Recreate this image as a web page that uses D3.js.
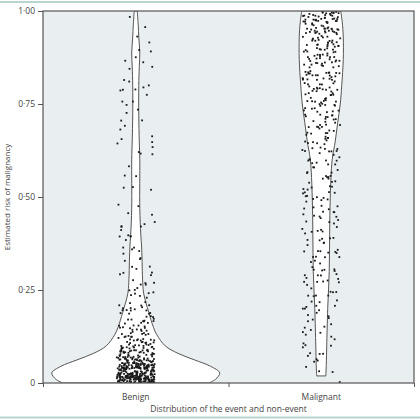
<!DOCTYPE html>
<html>
<head>
<meta charset="utf-8">
<script src="https://cdn.jsdelivr.net/npm/d3@7"></script>
<style>
  body { margin: 0; background: #fff; }
  svg { display: block; }
  text { font-family: "Open Sans", sans-serif; fill: #444; }
</style>
</head>
<body>
<div id="chart"></div>
<script>
// categories and axis ticks
var groups = ["Benign", "Malignant"];
var yTicks = [0, 0.25, 0.5, 0.75, 1];
var yTickLabels = ["0", "0·25", "0·50", "0·75", "1·00"];

// number of patients per 0.025 band of estimated risk
var binWidth = 0.025;
var benignCounts = [150, 100, 60, 40, 25, 18, 14, 12, 8, 7,
                    6, 5, 3, 4, 4, 5, 4, 2, 2, 2,
                    1, 2, 2, 1, 3, 3, 2, 2, 2, 3,
                    3, 4, 3, 2, 2, 3, 1, 1, 1, 1];
var malignantCounts = [1, 3, 4, 4, 5, 5, 5, 6, 6, 7,
                       6, 7, 7, 7, 7, 7, 7, 8, 7, 8,
                       8, 8, 8, 9, 9, 10, 10, 11, 12, 13,
                       14, 15, 16, 17, 18, 20, 20, 22, 25, 30];

// violin outlines: [risk, relative density]
var benignProfile = [[0, 0.87], [0.01, 0.95], [0.027, 1.0], [0.045, 0.89], [0.062, 0.70],
                     [0.08, 0.50], [0.10, 0.35], [0.13, 0.25], [0.15, 0.21], [0.19, 0.155],
                     [0.24, 0.095], [0.27, 0.083], [0.36, 0.071], [0.40, 0.06], [0.47, 0.048],
                     [0.60, 0.048], [0.65, 0.042], [0.72, 0.036], [0.80, 0.036], [0.85, 0.042],
                     [0.887, 0.048], [0.93, 0.036], [0.96, 0.03], [1.0, 0.018]];
var malignantProfile = [[0.019, 0.054], [0.05, 0.06], [0.1, 0.065], [0.2, 0.077], [0.3, 0.095],
                        [0.4, 0.10], [0.5, 0.107], [0.6, 0.13], [0.65, 0.167], [0.7, 0.196],
                        [0.75, 0.226], [0.8, 0.244], [0.87, 0.262], [0.93, 0.262], [0.97, 0.25],
                        [1.0, 0.232]];

var W = 420, H = 420;
var margin = { top: 11, right: 6, bottom: 37, left: 43 },
    width = W - margin.left - margin.right,
    height = H - margin.top - margin.bottom;

var svg = d3.select("#chart").append("svg")
    .attr("width", W)
    .attr("height", H);

// thin teal rules of the journal page
svg.append("line").attr("x1", 0).attr("x2", W).attr("y1", 2).attr("y2", 2)
    .attr("stroke", "#b8d6cf").attr("stroke-width", 2);
svg.append("line").attr("x1", 0).attr("x2", W).attr("y1", 417.5).attr("y2", 417.5)
    .attr("stroke", "#b8d6cf").attr("stroke-width", 2);

var g = svg.append("g")
    .attr("transform", "translate(" + margin.left + "," + margin.top + ")");

var x = d3.scaleBand().domain(groups).range([0, width]).padding(0);
var xEdge = d3.scaleLinear().domain([0, groups.length]).range([0, width]);
var y = d3.scaleLinear().domain([0, 1]).range([height, 0]);
var w = d3.scaleLinear().domain([0, 1]).range([0, 84]);

// panel
g.append("rect")
    .attr("width", width).attr("height", height)
    .attr("fill", "#e9eef0");

g.append("clipPath").attr("id", "clip")
    .append("rect").attr("width", width).attr("height", height);

var plot = g.append("g").attr("clip-path", "url(#clip)");

// violins
var profiles = { "Benign": benignProfile, "Malignant": malignantProfile };
groups.forEach(function (grp) {
    var cx = x(grp) + x.bandwidth() / 2;
    var area = d3.area()
        .y(function (d) { return y(d[0]); })
        .x0(function (d) { return cx - w(d[1]); })
        .x1(function (d) { return cx + w(d[1]); })
        .curve(d3.curveCatmullRom);
    plot.append("path")
        .datum(profiles[grp])
        .attr("d", area)
        .attr("fill", "#fff")
        .attr("stroke", "#555")
        .attr("stroke-width", 1);
});

// fixed scatter offsets (hash of the point index, so every render is the same)
function hash(n) {
    var s = Math.sin(n * 12.9898 + 78.233) * 43758.5453;
    return s - Math.floor(s);
}

// jittered points
var counts = { "Benign": benignCounts, "Malignant": malignantCounts };
var jitter = 19;
groups.forEach(function (grp, gi) {
    var cx = x(grp) + x.bandwidth() / 2;
    var pts = [];
    var idx = gi * 1000;
    counts[grp].forEach(function (c, i) {
        for (var k = 0; k < c; k++) {
            idx++;
            pts.push({
                v: (i + hash(idx * 3.1 + 0.7)) * binWidth,
                dx: (hash(idx) - 0.5) * 2 * jitter
            });
        }
    });
    plot.selectAll("rect.pt" + gi)
        .data(pts)
        .enter()
        .append("rect")
        .attr("class", "pt" + gi)
        .attr("x", function (d) { return cx + d.dx - 0.9; })
        .attr("y", function (d) { return y(d.v) - 0.9; })
        .attr("width", 1.8)
        .attr("height", 1.8)
        .attr("fill", "#1a1a1a");
});

// frame
g.append("rect")
    .attr("width", width).attr("height", height)
    .attr("fill", "none")
    .attr("stroke", "#555")
    .attr("stroke-width", 1.2);

// y axis
var yAxis = g.append("g")
    .call(d3.axisLeft(y).tickValues(yTicks).tickSize(5)
        .tickFormat(function (d, i) { return yTickLabels[i]; }));
yAxis.select(".domain").remove();
yAxis.selectAll("line").attr("stroke", "#555");
yAxis.selectAll("text").attr("font-size", 8.5).attr("fill", "#444")
    .style("font-family", "'Open Sans', sans-serif");

// x axis: ticks on band edges, labels at band centres
var xAxis = g.append("g")
    .attr("transform", "translate(0," + height + ")")
    .call(d3.axisBottom(xEdge).tickValues([0, 1, 2]).tickSize(4).tickFormat(""));
xAxis.select(".domain").remove();
xAxis.selectAll("line").attr("stroke", "#555");

g.selectAll("text.xlab")
    .data(groups)
    .enter()
    .append("text")
    .attr("class", "xlab")
    .attr("x", function (d) { return x(d) + x.bandwidth() / 2; })
    .attr("y", height + 17)
    .attr("text-anchor", "middle")
    .attr("font-size", 8.5)
    .text(function (d) { return d; });

g.append("text")
    .attr("x", width / 2)
    .attr("y", height + 28.5)
    .attr("text-anchor", "middle")
    .attr("font-size", 8.5)
    .text("Distribution of the event and non-event");

g.append("text")
    .attr("transform", "translate(" + (10 - margin.left) + "," + (height / 2) + ") rotate(-90)")
    .attr("text-anchor", "middle")
    .attr("font-size", 8)
    .text("Estimated risk of malignancy");
</script>
</body>
</html>
